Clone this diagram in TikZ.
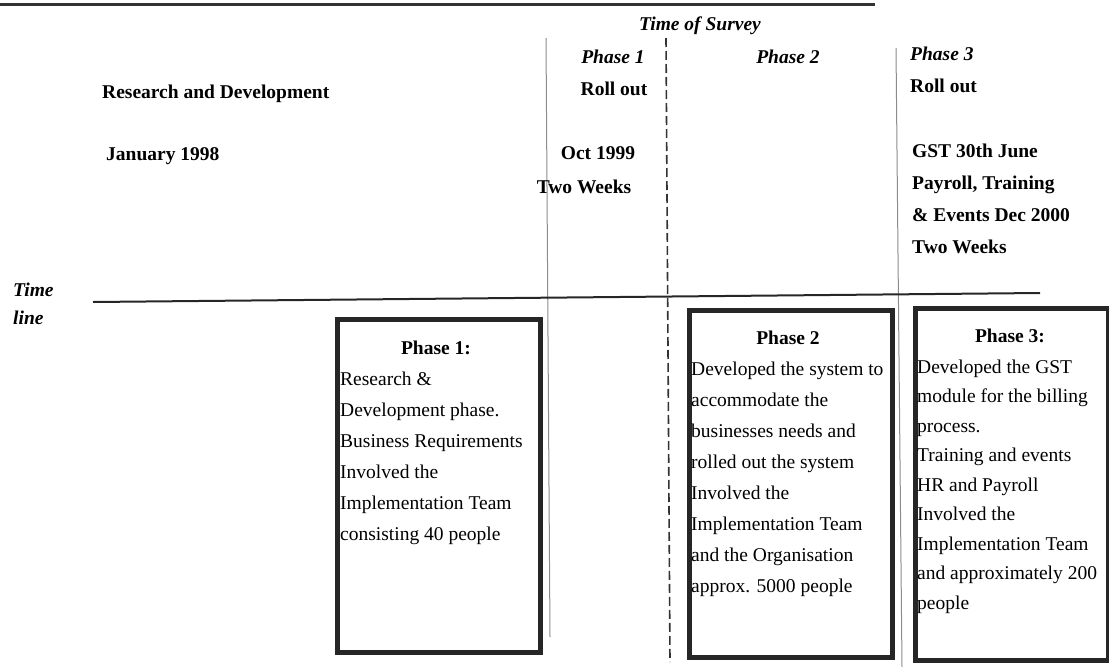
\documentclass[tikz,border=0pt]{standalone}
\usepackage{fontspec}
\setmainfont{Liberation Serif}

\begin{document}
\begin{tikzpicture}[x=1pt,y=-1pt,
	every node/.style={inner sep=0pt,font=\fontsize{19.5}{31}\selectfont},
	hdr/.style={font=\fontsize{19.5}{31}\selectfont\bfseries},
	phase/.style={font=\fontsize{19.5}{31}\selectfont\bfseries\itshape},
	phasebox/.style={draw=black!85,line width=4.5pt,anchor=north west},
	boxtext/.style={align=left,anchor=base west},
	thinline/.style={draw=black!45,line width=1pt}]
	\useasboundingbox (0,0) rectangle (1109,667);
	\draw[black!80,line width=3pt] (0,4) -- (875,4);
	\node[phase, anchor=base] (survey) at (700,30) {Time of Survey};
	\draw[thinline] (546,38) -- (550,637);
	\draw[black!80,line width=1.6pt,dash pattern=on 9pt off 4pt] (666,38) -- (670,662);
	\draw[thinline] (896,48) -- (902,667);
	\draw[black!85,line width=2pt] (93,302) -- (1040,293);
	\node[hdr, anchor=base west] (rnd) at (102,98) {Research and Development};
	\node[hdr, anchor=base west] (jan) at (106,160) {January 1998};
	\node[phase, anchor=base west] (time) at (13,296) {Time};
	\node[phase, anchor=base west] (line) at (13,324) {line};
	\node[phase, anchor=base] (ph1) at (613,63) {Phase 1};
	\node[hdr, anchor=base] (roll1) at (614,95) {Roll out};
	\node[hdr, anchor=base] (oct) at (598,159) {Oct 1999};
	\node[hdr, anchor=base] (weeks1) at (584,193) {Two Weeks};
	\node[phase, anchor=base] (ph2) at (788,63) {Phase 2};
	\node[phase, anchor=base west] (ph3) at (910,60) {Phase 3};
	\node[hdr, anchor=base west] (roll3) at (910,92) {Roll out};
	\node[hdr, anchor=base west] (gst) at (912,157) {GST 30th June};
	\node[hdr, anchor=base west] (pay) at (912,189) {Payroll, Training};
	\node[hdr, anchor=base west] (events) at (912,221) {\& Events Dec 2000};
	\node[hdr, anchor=base west] (weeks3) at (912,253) {Two Weeks};
	\node[phasebox, minimum width=203pt, minimum height=333pt] (box1) at (335,317) {};
	\node[phasebox, minimum width=203pt, minimum height=347pt] (box2) at (687,308) {};
	\node[phasebox, minimum width=193pt, minimum height=352pt] (box3) at (913,306) {};
	\node[hdr, anchor=base] (box1head) at (436,354) {Phase 1:};
	\node[boxtext] (box1body) at (340,540) {Research \&\\Development phase.\\Business Requirements\\Involved the\\Implementation Team\\consisting 40 people};
	\node[hdr, anchor=base] (box2head) at (788,344) {Phase 2};
	\node[boxtext] (box2body) at (691,592) {Developed the system to\\accommodate the\\businesses needs and\\rolled out the system\\Involved the\\Implementation Team\\and the Organisation\\approx. 5000 people};
	\node[hdr, anchor=base] (box3head) at (1010,342) {Phase 3:};
	\node[boxtext, font=\fontsize{19.5}{29.5}\selectfont] (box3body) at (917,609) {Developed the GST\\module for the billing\\process.\\Training and events\\HR and Payroll\\Involved the\\Implementation Team\\and approximately 200\\people};
\end{tikzpicture}
\end{document}
